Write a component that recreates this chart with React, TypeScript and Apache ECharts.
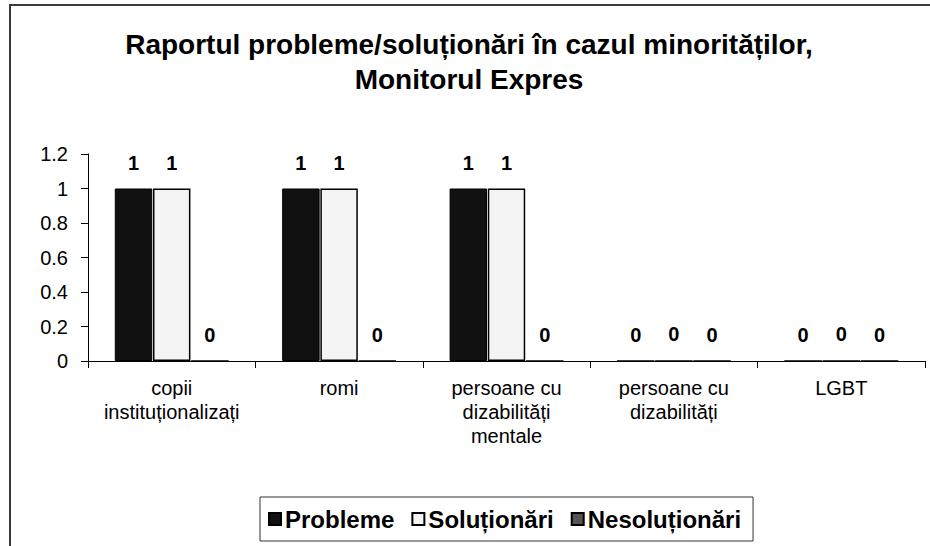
import React, { useEffect, useRef } from "react";
import * as echarts from "echarts";

const categories = [
  "copii\ninstituționalizați",
  "romi",
  "persoane cu\ndizabilități\nmentale",
  "persoane cu\ndizabilități",
  "LGBT",
];
const probleme = [1, 1, 1, 0, 0];
const solutionari = [1, 1, 1, 0, 0];
const nesolutionari = [0, 0, 0, 0, 0];
const seriesNames = ["Probleme", "Soluționări", "Nesoluționări"];
const yTicks = { min: 0, max: 1.2, interval: 0.2 };

const FONT = "'Liberation Sans', Arial, sans-serif";

export default function App() {
  const ref = useRef<HTMLDivElement>(null);
  useEffect(() => {
    if (!ref.current) return;
    const chart = echarts.init(ref.current, null, { renderer: "svg" });
    const label = {
      show: true,
      position: "top",
      distance: 16,
      color: "#000",
      fontWeight: "bold",
      fontSize: 20,
      fontFamily: FONT,
    };
    chart.setOption({
      animation: false,
      backgroundColor: "#fff",
      textStyle: { fontFamily: FONT },
      title: {
        text: "Raportul probleme/soluționări în cazul minorităților,\nMonitorul Expres",
        left: 464,
        textAlign: "center",
        top: 22,
        textStyle: {
          fontFamily: FONT,
          fontWeight: "bold",
          fontSize: 28,
          lineHeight: 35,
          color: "#000",
        },
      },
      graphic: [
        {
          type: "rect",
          shape: { x: 10, y: 5, width: 940, height: 560 },
          style: { fill: "none", stroke: "#3a3a3a", lineWidth: 2 },
          silent: true,
        },
      ],
      legend: {
        left: 260,
        top: 497,
        borderColor: "#333",
        borderWidth: 1,
        padding: [10, 12, 10, 8],
        itemWidth: 12,
        itemHeight: 12,
        itemGap: 17,
        icon: "rect",
        textStyle: {
          fontFamily: FONT,
          fontWeight: "bold",
          fontSize: 24,
          color: "#000",
          padding: [0, 0, 0, -1],
        },
        data: seriesNames,
      },
      grid: { left: 88, right: 5, top: 154, bottom: 185, containLabel: false },
      xAxis: {
        type: "category",
        data: categories,
        axisLine: { lineStyle: { color: "#000", width: 1 } },
        axisTick: { show: true, length: 7, lineStyle: { color: "#000" } },
        axisLabel: {
          color: "#000",
          fontSize: 20,
          lineHeight: 24,
          margin: 15,
          fontFamily: FONT,
          interval: 0,
        },
      },
      yAxis: {
        type: "value",
        min: yTicks.min,
        max: yTicks.max,
        interval: yTicks.interval,
        splitLine: { show: false },
        axisLine: { show: true, lineStyle: { color: "#000", width: 1 } },
        axisTick: { show: true, length: 7, lineStyle: { color: "#000" } },
        axisLabel: {
          color: "#000",
          fontSize: 20,
          margin: 20,
          fontFamily: FONT,
          formatter: (v: number) => String(Math.round(v * 10) / 10),
        },
      },
      series: [
        {
          name: seriesNames[0],
          type: "bar",
          data: probleme,
          barGap: "2%",
          barCategoryGap: "32%",
          itemStyle: { color: "#111", borderColor: "#000", borderWidth: 1 },
          label,
        },
        {
          name: seriesNames[1],
          type: "bar",
          data: solutionari,
          itemStyle: { color: "#f4f4f4", borderColor: "#000", borderWidth: 1.5 },
          label,
        },
        {
          name: seriesNames[2],
          type: "bar",
          data: nesolutionari,
          itemStyle: { color: "#555", borderColor: "#000", borderWidth: 1 },
          label,
        },
      ],
    });
    return () => chart.dispose();
  }, []);
  return (
    <div
      ref={ref}
      style={{ position: "absolute", left: 0, top: 0, width: 930, height: 546 }}
    />
  );
}
